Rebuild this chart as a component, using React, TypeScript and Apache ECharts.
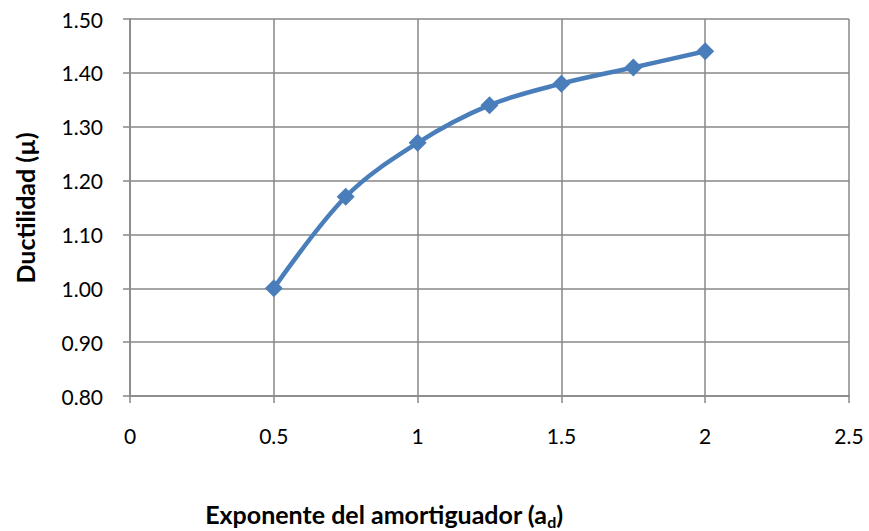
import React, { useEffect, useRef } from "react";
import * as echarts from "echarts";

const xValues = [0.5, 0.75, 1, 1.25, 1.5, 1.75, 2];
const ductility = [1.0, 1.17, 1.27, 1.34, 1.38, 1.41, 1.44];
const yTitle = "Ductilidad (µ)";
const xTitleMain = "Exponente del amortiguador (a";
const xTitleSub = "d";

const FONT = "Lato";
const GRID_COLOR = "#878787";
const LINE_COLOR = "#4a7ebb";

export default function App() {
  const ref = useRef<HTMLDivElement>(null);
  useEffect(() => {
    if (!ref.current) return;
    const chart = echarts.init(ref.current, undefined, { renderer: "svg" });
    chart.setOption({
      animation: false,
      backgroundColor: "#ffffff",
      grid: { left: 130, top: 19, right: 20, bottom: 135, containLabel: false },
      xAxis: {
        type: "value",
        min: 0,
        max: 2.5,
        interval: 0.5,
        axisLine: { show: true, lineStyle: { color: GRID_COLOR, width: 1.5 } },
        axisTick: { show: true, inside: false, length: 7, lineStyle: { color: GRID_COLOR, width: 1.5 } },
        splitLine: { show: true, lineStyle: { color: GRID_COLOR, width: 1.5 } },
        axisLabel: { color: "#000", fontSize: 21, fontFamily: FONT, margin: 29 },
      },
      yAxis: {
        type: "value",
        min: 0.8,
        max: 1.5,
        interval: 0.1,
        axisLine: { show: true, lineStyle: { color: GRID_COLOR, width: 1.5 } },
        axisTick: { show: true, inside: false, length: 7, lineStyle: { color: GRID_COLOR, width: 1.5 } },
        splitLine: { show: true, lineStyle: { color: GRID_COLOR, width: 1.5 } },
        axisLabel: {
          color: "#000",
          fontSize: 21,
          fontFamily: FONT,
          margin: 27,
          formatter: (v: number) => v.toFixed(2),
        },
      },
      series: [
        {
          type: "line",
          data: xValues.map((x, i) => [x, ductility[i]]),
          smooth: 0.35,
          symbol: "diamond",
          symbolSize: 18,
          lineStyle: { color: LINE_COLOR, width: 4.5 },
          itemStyle: { color: LINE_COLOR },
        },
      ],
      graphic: [
        {
          type: "text",
          x: 25,
          y: 208,
          rotation: Math.PI / 2,
          style: {
            text: yTitle,
            fill: "#000",
            font: `bold 25px ${FONT}`,
            align: "center",
            verticalAlign: "middle",
          },
        },
        {
          type: "text",
          x: 384,
          y: 514,
          style: {
            text: `{m|${xTitleMain}}{s|${xTitleSub}}{m|)}`,
            align: "center",
            verticalAlign: "middle",
            rich: {
              m: { fontFamily: FONT, fontWeight: "bold", fontSize: 25, fill: "#000", verticalAlign: "middle" },
              s: { fontFamily: FONT, fontWeight: "bold", fontSize: 16, fill: "#000", padding: [14, 0, 0, 0] },
            },
          },
        },
      ],
    });
    return () => chart.dispose();
  }, []);
  return (
    <div
      ref={ref}
      style={{ position: "fixed", left: 0, top: 0, width: 869, height: 531, overflow: "hidden" }}
    />
  );
}
